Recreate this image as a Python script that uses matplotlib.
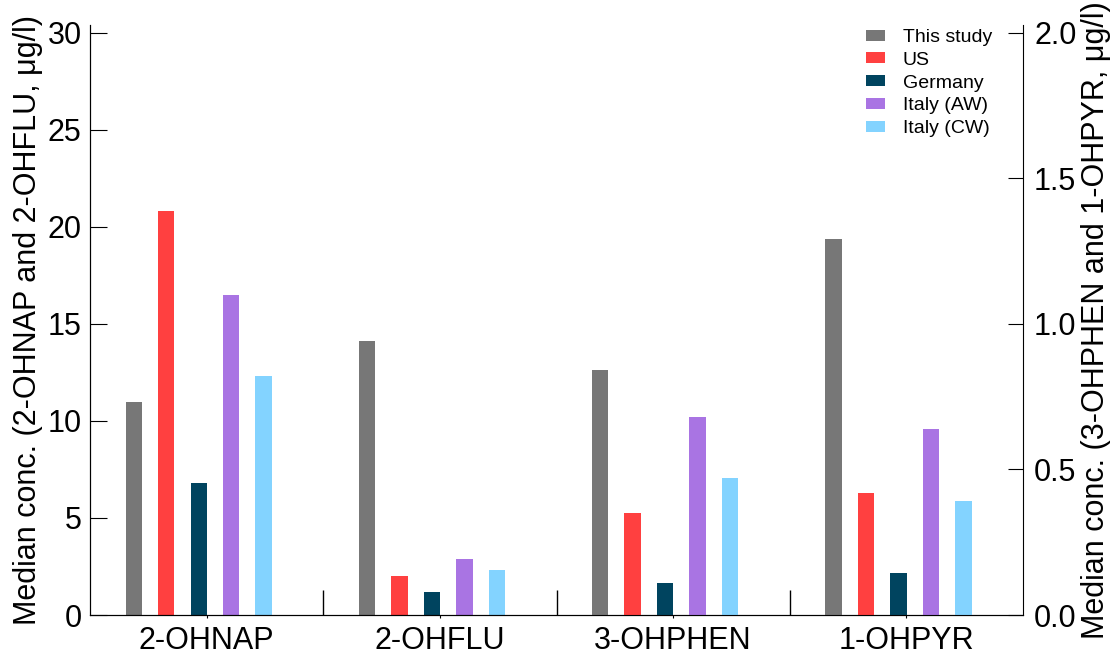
import matplotlib
matplotlib.use("Agg")
import matplotlib.pyplot as plt
from matplotlib.ticker import FormatStrFormatter, FixedLocator
import numpy as np

plt.rcParams['font.family'] = ['Liberation Sans', 'DejaVu Sans']

# Median concentrations; first two compounds in ug/l on left axis,
# last two on right axis
compounds = ['2-OHNAP', '2-OHFLU', '3-OHPHEN', '1-OHPYR']
studies = ['This study', 'US', 'Germany', 'Italy (AW)', 'Italy (CW)']
this_study = [11.0, 14.1, 0.84, 1.29]
us = [20.8, 2.0, 0.35, 0.42]
germany = [6.8, 1.2, 0.11, 0.145]
italy_aw = [16.5, 2.9, 0.68, 0.64]
italy_cw = [12.3, 2.3, 0.47, 0.39]
on_right = [False, False, True, True]

values = [this_study, us, germany, italy_aw, italy_cw]
colors = ['#777777', '#FF4040', '#00445F', '#A974E3', '#83D3FF']

fig = plt.figure(figsize=(11.2, 6.57), dpi=100)
ax = fig.add_axes([0.0804, 0.0639, 0.833, 0.898])
ax2 = ax.twinx()

x = np.arange(len(compounds))
pitch = 0.1393
shift = -0.0343
width = 0.07

handles = []
for i, (name, vals, c) in enumerate(zip(studies, values, colors)):
    pos = x + (i - 2) * pitch + shift
    left_idx = [k for k in range(len(compounds)) if not on_right[k]]
    right_idx = [k for k in range(len(compounds)) if on_right[k]]
    h = ax.bar(pos[left_idx], [vals[k] for k in left_idx], width=width,
               color=c, label=name)
    ax2.bar(pos[right_idx], [vals[k] for k in right_idx], width=width,
            color=c)
    handles.append(h)

ax.set_xlim(-0.5, 3.5)
ax.set_ylim(0, 30.4)
ax2.set_ylim(0, 30.4 / 15)

ax.set_yticks([0, 5, 10, 15, 20, 25, 30])
ax2.set_yticks([0, 0.5, 1.0, 1.5, 2.0])
ax2.yaxis.set_major_formatter(FormatStrFormatter('%.1f'))

ax.set_xticks(x)
ax.set_xticklabels(compounds, fontsize=22)
ax.xaxis.set_minor_locator(FixedLocator([0.5, 1.5, 2.5]))
ax.tick_params(axis='x', which='major', length=2, direction='out', pad=6)
ax.tick_params(axis='x', which='minor', length=18, direction='in', width=1)
ax.tick_params(axis='y', length=12, direction='in', labelsize=22, pad=6)
ax2.tick_params(axis='y', length=11, direction='in', labelsize=22, pad=8)

for a in (ax, ax2):
    a.spines['top'].set_visible(False)
ax.spines['right'].set_visible(False)

ax.set_ylabel('Median conc. (2-OHNAP and 2-OHFLU, μg/l)', fontsize=22, labelpad=3)
ax2.set_ylabel('Median conc. (3-OHPHEN and 1-OHPYR, μg/l)', fontsize=22, labelpad=3)

fig.legend(handles=handles, loc='upper left', bbox_to_anchor=(866 / 1120, 1 - 29 / 657),
           frameon=False, fontsize=14, handlelength=1.0, handleheight=0.5,
           handletextpad=0.9, labelspacing=0.3, borderpad=0, borderaxespad=0)

fig.savefig('out.png', dpi=100)
